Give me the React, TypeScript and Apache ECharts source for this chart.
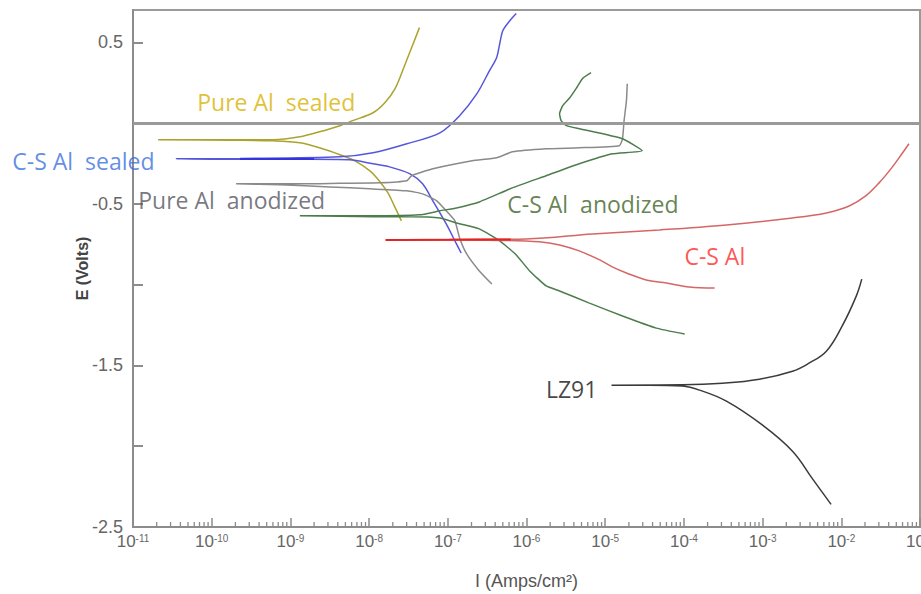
import { useEffect, useRef } from 'react';
import * as echarts from 'echarts';

// Each point: [log10 of I (A/cm²), E (V)]
const pureAlSealed: [number, number][] = [
  [-7.59, -0.605], [-7.68, -0.512], [-7.76, -0.432], [-7.86, -0.364], [-7.99, -0.296],
  [-8.18, -0.234], [-8.37, -0.196], [-8.63, -0.153], [-8.88, -0.122], [-9.22, -0.11],
  [-9.77, -0.106], [-10.68, -0.103], [-9.22, -0.103], [-8.88, -0.085], [-8.63, -0.054],
  [-8.37, -0.016], [-8.21, 0.015], [-7.95, 0.064], [-7.8, 0.126], [-7.67, 0.213],
  [-7.55, 0.355], [-7.36, 0.591],
];
const csAlSealed: [number, number][] = [
  [-6.83, -0.804], [-6.89, -0.748], [-7.02, -0.624], [-7.19, -0.481], [-7.32, -0.376],
  [-7.48, -0.314], [-7.74, -0.271], [-7.95, -0.252], [-8.25, -0.227], [-8.75, -0.224],
  [-9.64, -0.224], [-10.45, -0.221], [-9.64, -0.219], [-8.37, -0.209], [-7.95, -0.184],
  [-7.52, -0.128], [-7.1, -0.06], [-6.85, 0.046], [-6.63, 0.182], [-6.47, 0.325],
  [-6.38, 0.405], [-6.34, 0.492], [-6.3, 0.573], [-6.22, 0.629], [-6.13, 0.678],
];
const pureAlAnodized: [number, number][] = [
  [-6.44, -0.996], [-6.6, -0.915], [-6.76, -0.81], [-6.85, -0.711], [-6.91, -0.605],
  [-7.02, -0.543], [-7.14, -0.481], [-7.32, -0.438], [-7.52, -0.419], [-7.99, -0.407],
  [-8.5, -0.395], [-9.13, -0.382], [-9.69, -0.376], [-8.88, -0.376], [-8.37, -0.373],
  [-7.87, -0.37], [-7.52, -0.357], [-7.46, -0.326], [-7.19, -0.283], [-6.69, -0.233],
  [-6.38, -0.215], [-6.18, -0.178], [-5.75, -0.159], [-5.33, -0.153], [-4.82, -0.14],
  [-4.78, -0.097], [-4.76, 0.015], [-4.73, 0.139], [-4.72, 0.244],
];
const csAlAnodized: [number, number][] = [
  [-3.99, -1.306], [-4.35, -1.269], [-4.78, -1.194], [-5.2, -1.114], [-5.58, -1.039],
  [-5.75, -1.008], [-5.96, -0.915], [-6.13, -0.816], [-6.34, -0.729], [-6.6, -0.655],
  [-6.89, -0.618], [-7.1, -0.587], [-7.48, -0.58], [-7.95, -0.58], [-8.37, -0.577],
  [-8.88, -0.574], [-7.99, -0.574], [-7.36, -0.568], [-7.1, -0.543], [-6.89, -0.525],
  [-6.6, -0.488], [-6.18, -0.401], [-5.75, -0.326], [-5.33, -0.252], [-4.91, -0.19],
  [-4.53, -0.171], [-4.78, -0.097], [-5.33, -0.035], [-5.49, -0.016], [-5.56, 0.015],
  [-5.58, 0.058], [-5.54, 0.108], [-5.45, 0.157], [-5.37, 0.213], [-5.29, 0.275],
  [-5.18, 0.312],
];
const csAl: [number, number][] = [
  [-3.61, -1.021], [-3.93, -1.015], [-4.22, -0.99], [-4.48, -0.971], [-4.73, -0.928],
  [-4.91, -0.89], [-5.07, -0.847], [-5.33, -0.791], [-5.58, -0.754], [-5.84, -0.735],
  [-6.34, -0.726], [-6.98, -0.723], [-7.79, -0.723], [-6.98, -0.72], [-6.0, -0.717],
  [-5.16, -0.686], [-4.31, -0.661], [-3.46, -0.63], [-2.62, -0.587], [-2.19, -0.556],
  [-1.9, -0.513], [-1.69, -0.451], [-1.52, -0.37], [-1.36, -0.277], [-1.23, -0.19],
  [-1.14, -0.128],
];
const lz91: [number, number][] = [
  [-2.13, -2.36], [-2.37, -2.199], [-2.62, -2.031], [-3.0, -1.87], [-3.46, -1.721],
  [-3.8, -1.653], [-4.02, -1.628], [-4.44, -1.622], [-4.92, -1.622], [-4.02, -1.62],
  [-3.51, -1.61], [-3.04, -1.585], [-2.62, -1.536], [-2.41, -1.486], [-2.19, -1.412],
  [-1.99, -1.257], [-1.81, -1.071], [-1.74, -0.966],
];
// Darker, overlapping stretches near the corrosion potential
const csAlCorrSegment: [number, number][] = [[-7.79, -0.723], [-6.98, -0.722], [-6.2, -0.72]];
const csAlSealedCorrSegment: [number, number][] = [[-9.64, -0.222], [-9.1, -0.222], [-8.7, -0.222]];

const seriesNames = ['Pure Al sealed', 'C-S Al sealed', 'Pure Al anodized', 'C-S Al anodized', 'C-S Al', 'LZ91'];
const seriesColors = ['#aba32e', '#5656dc', '#8a8a8a', '#4d7d4d', '#d56666', '#3a3a3a'];
const seriesSmooth = [0.35, 0.3, 0.15, 0.15, 0.35, 0.4];

// Curve labels: [log10 I, E, side]
const labelTexts = ['Pure Al\u00a0 sealed', 'C-S Al\u00a0 sealed', 'Pure Al\u00a0 anodized', 'C-S Al\u00a0 anodized', 'C-S Al', 'LZ91'];
const labelAnchors: [number, number, string][] = [
  [-10.19, 0.132, 'right'],
  [-10.72, -0.233, 'left'],
  [-10.94, -0.475, 'right'],
  [-6.25, -0.5, 'right'],
  [-4.0, -0.822, 'right'],
  [-5.76, -1.647, 'right'],
];
const labelColors = ['#d8b200', '#3b6fe0', '#55555f', '#3d6326', '#ff2a2a', '#151515'];

const yLabelValues = [0.5, -0.5, -1.5, -2.5];
const decadeExps = [-11, -10, -9, -8, -7, -6, -5, -4, -3, -2];
const minorMultipliers = [2, 3, 4, 5, 6, 7, 8, 9];

const toData = (pts: [number, number][]) => pts.map(([l, e]) => [Math.pow(10, l), e]);

export default function App() {
  const ref = useRef<HTMLDivElement>(null);
  useEffect(() => {
    document.documentElement.style.overflow = 'hidden';
    document.body.style.margin = '0';
    document.body.style.overflow = 'hidden';
    const chart = echarts.init(ref.current!, null, { renderer: 'svg', width: 921, height: 594 });
    const curves = [pureAlSealed, csAlSealed, pureAlAnodized, csAlAnodized, csAl, lz91];
    const minorTicks: number[][] = [];
    decadeExps.forEach((d) => minorMultipliers.forEach((m) => minorTicks.push([m * Math.pow(10, d), -2.5])));

    const lineSeries: any[] = curves.map((c, i) => ({
      name: seriesNames[i],
      type: 'line',
      data: toData(c),
      showSymbol: false,
      symbol: 'none',
      smooth: seriesSmooth[i],
      lineStyle: { color: seriesColors[i], width: 1.5 },
      z: 3,
    }));
    lineSeries[0].markLine = {
      silent: true,
      symbol: 'none',
      label: { show: false },
      lineStyle: { color: '#9a9a9a', width: 3, type: 'solid' },
      data: [{ yAxis: 0 }],
    };
    const segmentSeries = [
      { data: csAlCorrSegment, color: '#e42222' },
      { data: csAlSealedCorrSegment, color: '#3333e0' },
    ].map((s) => ({
      type: 'line',
      data: toData(s.data),
      showSymbol: false,
      symbol: 'none',
      lineStyle: { color: s.color, width: 2 },
      z: 3,
    }));

    const labelSeries = {
      type: 'scatter',
      symbolSize: 1,
      itemStyle: { color: 'rgba(0,0,0,0)' },
      clip: false,
      silent: true,
      z: 5,
      data: labelAnchors.map(([l, e, side], i) => ({
        value: [Math.pow(10, l), e],
        name: labelTexts[i],
        label: {
          show: true,
          position: side,
          distance: 0,
          formatter: '{b}',
          color: labelColors[i],
          fontSize: 23,
          fontFamily: 'Open Sans',
        },
      })),
    };

    const tickSeries = {
      type: 'custom',
      silent: true,
      z: 4,
      data: minorTicks,
      renderItem: (_p: any, api: any) => {
        const pt = api.coord([api.value(0), api.value(1)]);
        return {
          type: 'line',
          shape: { x1: pt[0], y1: pt[1], x2: pt[0], y2: pt[1] - 5 },
          style: { stroke: '#8c8c8c', lineWidth: 1.3 },
        };
      },
    };

    chart.setOption({
      animation: false,
      backgroundColor: '#ffffff',
      grid: {
        left: 133, right: 1, top: 10, bottom: 67,
        outerBoundsMode: 'none',
        containLabel: false,
        show: true, borderColor: '#9a9a9a', borderWidth: 2,
      },
      xAxis: {
        type: 'log',
        logBase: 10,
        min: 1e-11,
        max: 1e-1,
        interval: 1,
        name: 'I (Amps/cm²)',
        nameLocation: 'middle',
        nameGap: 45,
        nameMoveOverlap: false,
        nameTextStyle: { color: '#555', fontSize: 18, fontFamily: 'Liberation Sans' },
        axisLine: { show: true, onZero: false, lineStyle: { color: '#8c8c8c', width: 2 } },
        axisTick: { show: true, inside: true, length: 9, lineStyle: { color: '#8c8c8c', width: 1.5 } },
        splitLine: { show: false },
        minorTick: { show: false },
        axisLabel: {
          margin: 6,
          hideOverlap: false,
          formatter: (v: number) => `{b|10}{s|${Math.round(Math.log10(v))}}`,
          rich: {
            b: { fontSize: 17, color: '#666', fontFamily: 'Liberation Sans' },
            s: { fontSize: 10, color: '#666', fontFamily: 'Liberation Sans', verticalAlign: 'top' },
          },
        },
      },
      yAxis: {
        type: 'value',
        min: -2.5,
        max: 0.7,
        interval: 0.5,
        name: 'E (Volts)',
        nameLocation: 'middle',
        nameGap: 43,
        nameMoveOverlap: false,
        nameTextStyle: { color: '#444', fontSize: 16, fontWeight: 'bold', fontFamily: 'Liberation Sans' },
        axisLine: { show: true, onZero: false, lineStyle: { color: '#8c8c8c', width: 2 } },
        axisTick: { show: true, inside: true, length: 10, lineStyle: { color: '#8c8c8c', width: 2 } },
        splitLine: { show: false },
        axisLabel: {
          margin: 10,
          color: '#666',
          fontSize: 18,
          fontFamily: 'Liberation Sans',
          showMaxLabel: false,
          formatter: (v: number) => (yLabelValues.some((y) => Math.abs(y - v) < 1e-6) ? String(v) : ''),
        },
      },
      series: [...lineSeries, ...segmentSeries, tickSeries, labelSeries],
    });
    return () => chart.dispose();
  }, []);
  return <div ref={ref} style={{ position: 'fixed', left: 0, top: 0, width: 921, height: 594 }} />;
}
